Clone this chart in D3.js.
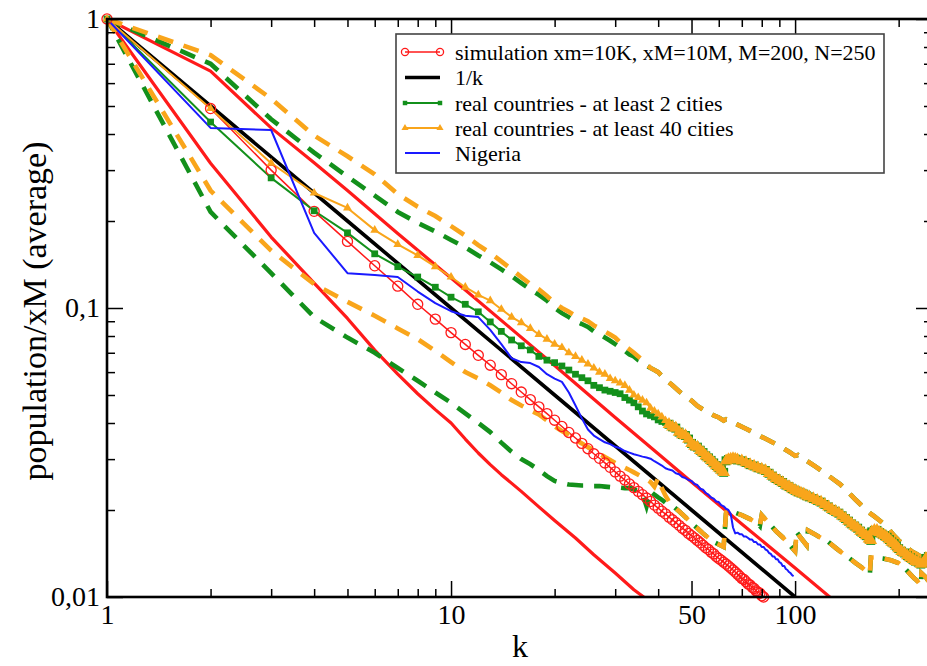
<!DOCTYPE html>
<html>
<head>
<meta charset="utf-8">
<script src="https://cdn.jsdelivr.net/npm/d3@7"></script>
<style>
  html, body { margin: 0; padding: 0; background: #fff; }
  svg { display: block; }
</style>
</head>
<body>
<svg id="chart" width="927" height="666"></svg>
<script>
// ---------- data ----------
const xTickValues = [1, 10, 50, 100];
const xTickLabels = ["1", "10", "50", "100"];
const xMinorTicks = [2, 3, 4, 5, 6, 7, 8, 9, 20, 30, 40, 60, 70, 80, 90, 200];
const yTickValues = [1, 0.1, 0.01];
const yTickLabels = ["1", "0,1", "0,01"];
const yMinorTicks = [0.02, 0.03, 0.04, 0.05, 0.06, 0.07, 0.08, 0.09,
                     0.2, 0.3, 0.4, 0.5, 0.6, 0.7, 0.8, 0.9];

const legendLabels = [
  "simulation xm=10K, xM=10M, M=200, N=250",
  "1/k",
  "real countries - at least 2 cities",
  "real countries - at least 40 cities",
  "Nigeria"
];

// simulation average, k = 1..81
const simulation = [1, 0.49, 0.30, 0.216, 0.170, 0.140, 0.119, 0.103, 0.0915, 0.0822,
  0.0748, 0.0686, 0.0634, 0.0588, 0.0547, 0.0512, 0.0482, 0.0455, 0.0431, 0.0409,
  0.0389, 0.0371, 0.0355, 0.0340, 0.0326, 0.0313, 0.0302, 0.0291, 0.0281, 0.0271,
  0.0262, 0.0254, 0.0246, 0.0239, 0.0232, 0.0226, 0.0220, 0.0214, 0.0208, 0.0203,
  0.0198, 0.0194, 0.0189, 0.0185, 0.0181, 0.0177, 0.0173, 0.0170, 0.0166, 0.0163,
  0.0160, 0.0157, 0.0154, 0.0151, 0.0148, 0.0146, 0.0143, 0.0141, 0.0138, 0.0136,
  0.0134, 0.0132, 0.0130, 0.0128, 0.0126, 0.0124, 0.0122, 0.0120, 0.0118, 0.0116,
  0.0115, 0.0113, 0.0111, 0.0110, 0.0108, 0.0107, 0.0105, 0.0104, 0.0103, 0.0101, 0.0100];

// simulation envelope (upper / lower), [k, value]
const simUpper = [[1, 1], [2, 0.66], [3, 0.42], [4, 0.318], [5, 0.255], [7, 0.181],
  [10, 0.127], [15, 0.0845], [20, 0.0632], [30, 0.0418], [40, 0.0313], [50, 0.025],
  [70, 0.0179], [100, 0.0126], [130, 0.0097]];
const simLower = [[1, 1], [2, 0.317], [3, 0.176], [4, 0.122], [5, 0.092], [6, 0.0715],
  [7, 0.059], [8, 0.0505], [9, 0.0445], [10, 0.040], [11, 0.0352], [12, 0.0315],
  [13, 0.0287], [14, 0.0265], [16, 0.0232], [18, 0.0205], [20, 0.0184], [23, 0.0160],
  [26, 0.0140], [30, 0.0121], [34, 0.0106], [38, 0.0096]];

// reference power law 1/k
const inverseK = [[1, 1], [2, 0.5], [5, 0.2], [10, 0.1], [20, 0.05], [50, 0.02], [100, 0.01]];

// real countries, average, k = 1..42
const atLeast2 = [1, 0.44, 0.282, 0.217, 0.182, 0.154, 0.139, 0.128, 0.118, 0.109,
  0.103, 0.097, 0.0895, 0.083, 0.0775, 0.074, 0.0716, 0.068, 0.066, 0.0647,
  0.063, 0.061, 0.059, 0.0574, 0.056, 0.054, 0.053, 0.052, 0.0515, 0.051,
  0.0505, 0.049, 0.048, 0.047, 0.0455, 0.044, 0.043, 0.0425, 0.042, 0.041,
  0.0405, 0.0402];
const atLeast40 = [1, 0.49, 0.317, 0.25, 0.222, 0.186, 0.166, 0.152, 0.139, 0.128,
  0.118, 0.111, 0.106, 0.099, 0.093, 0.089, 0.085, 0.081, 0.078, 0.075,
  0.073, 0.070, 0.068, 0.066, 0.064, 0.062, 0.060, 0.059, 0.057, 0.056,
  0.055, 0.054, 0.052, 0.050, 0.049, 0.048, 0.047, 0.045, 0.044, 0.043,
  0.042, 0.0408];
// both averages coincide for k >= 43, [k, value]
const averageTail = [[43, 0.0396], [44, 0.0388], [45, 0.0384], [46, 0.0372], [47, 0.0365],
  [48, 0.0362], [49, 0.0352], [50, 0.0340], [51, 0.0333], [52, 0.0330], [53, 0.0322],
  [54, 0.0316], [55, 0.0308], [56, 0.0303], [57, 0.0297], [58, 0.0291], [59, 0.0285],
  [60, 0.0280], [61, 0.0275], [62, 0.0270], [63, 0.0296], [64, 0.0299], [65, 0.0300],
  [66, 0.0301], [67, 0.0300], [68, 0.0298], [70, 0.0296], [72, 0.0292], [74, 0.0287],
  [76, 0.0284], [78, 0.0280], [80, 0.0277], [82, 0.0274], [84, 0.0268], [86, 0.0262],
  [88, 0.0257], [90, 0.0253], [92, 0.0249], [94, 0.0244], [96, 0.0241], [98, 0.0237],
  [100, 0.0234], [102, 0.0231], [104, 0.0229], [106, 0.0227], [108, 0.0224], [110, 0.0222],
  [113, 0.0219], [116, 0.0216], [119, 0.0213], [122, 0.0209], [125, 0.0205], [128, 0.0201],
  [131, 0.0198], [134, 0.0195], [137, 0.0191], [140, 0.0187], [143, 0.0183], [146, 0.0179],
  [149, 0.0176], [152, 0.0173], [155, 0.0169], [158, 0.0166], [161, 0.0163], [164, 0.0159],
  [166, 0.0157], [167, 0.0168], [170, 0.0170], [173, 0.0170], [176, 0.0167], [179, 0.0165],
  [182, 0.0163], [185, 0.0161], [188, 0.0158], [191, 0.0155], [194, 0.0153], [197, 0.0150],
  [200, 0.0147], [204, 0.0144], [208, 0.0142], [212, 0.0139], [216, 0.0137], [220, 0.0135],
  [224, 0.0133], [228, 0.0132], [232, 0.0130], [236, 0.0131], [240, 0.0136], [244, 0.0138],
  [248, 0.0134]];

// upper spread, k = 1..39
const upper2 = [1, 0.70, 0.45, 0.345, 0.285, 0.245, 0.215, 0.197, 0.184, 0.172,
  0.162, 0.152, 0.144, 0.136, 0.129, 0.122, 0.116, 0.111, 0.106, 0.100,
  0.096, 0.093, 0.090, 0.088, 0.086, 0.083, 0.081, 0.079, 0.077, 0.075,
  0.073, 0.071, 0.069, 0.068, 0.066, 0.065, 0.063, 0.062, 0.061];
const upper40 = [1, 0.75, 0.53, 0.395, 0.335, 0.29, 0.248, 0.224, 0.208, 0.192,
  0.178, 0.165, 0.155, 0.145, 0.136, 0.128, 0.121, 0.116, 0.110, 0.104,
  0.100, 0.097, 0.094, 0.092, 0.090, 0.087, 0.085, 0.083, 0.081, 0.079,
  0.076, 0.074, 0.072, 0.070, 0.068, 0.066, 0.064, 0.062, 0.061];
const upperTail = [[40, 0.060], [42, 0.0565], [44, 0.0540], [46, 0.0515], [48, 0.0495],
  [50, 0.0478], [52, 0.0458], [55, 0.0440], [58, 0.0425], [60, 0.0418], [62, 0.0408],
  [63, 0.0412], [65, 0.0405], [68, 0.0395], [72, 0.0382], [76, 0.0370], [80, 0.0358],
  [84, 0.0348], [88, 0.0338], [92, 0.0328], [96, 0.0318], [100, 0.0308], [102, 0.0310],
  [105, 0.0302], [110, 0.0292], [115, 0.0282], [120, 0.0272], [125, 0.0263], [130, 0.0254],
  [135, 0.0246], [140, 0.0236], [145, 0.0226], [150, 0.0217], [155, 0.0209], [160, 0.0201],
  [165, 0.0195], [170, 0.0190], [175, 0.0185], [180, 0.0180], [185, 0.0175], [190, 0.0168],
  [195, 0.0162], [200, 0.0157], [205, 0.0153], [210, 0.0149], [215, 0.0146], [220, 0.0143],
  [225, 0.0141], [230, 0.0139], [235, 0.0137], [240, 0.0133], [245, 0.0129], [250, 0.0126]];

// lower spread, k = 1..43
const lower2 = [1, 0.215, 0.132, 0.093, 0.079, 0.070, 0.062, 0.056, 0.051, 0.047,
  0.0432, 0.0400, 0.0372, 0.0342, 0.0318, 0.0300, 0.0288, 0.0275, 0.0262, 0.0252,
  0.0248, 0.0245, 0.0244, 0.0243, 0.0243, 0.0242, 0.0242, 0.0241, 0.0240, 0.0240,
  0.0239, 0.0238, 0.0238, 0.0236, 0.0233, 0.0228, 0.0206, 0.0232, 0.0226, 0.0221,
  0.0217, 0.0212, 0.0209];
const lower40 = [1, 0.255, 0.158, 0.121, 0.105, 0.094, 0.085, 0.078, 0.071, 0.065,
  0.060, 0.057, 0.054, 0.051, 0.048, 0.046, 0.0443, 0.0428, 0.0408, 0.0390,
  0.0375, 0.0364, 0.0350, 0.0340, 0.0330, 0.0322, 0.0313, 0.0305, 0.0298, 0.0291,
  0.0285, 0.0280, 0.0275, 0.0270, 0.0265, 0.0260, 0.0255, 0.0250, 0.0241, 0.0258,
  0.0238, 0.0224, 0.0214];
const lowerTail = [[44, 0.0207], [46, 0.0198], [48, 0.0189], [50, 0.0180], [52, 0.0173],
  [54, 0.0166], [56, 0.0160], [58, 0.0155], [60, 0.0152], [62, 0.0149], [63, 0.0196],
  [66, 0.0197], [70, 0.0192], [74, 0.0186], [78, 0.0179], [79, 0.0176], [80, 0.0192],
  [84, 0.0180], [88, 0.0169], [92, 0.0161], [96, 0.0152], [100, 0.0144], [101, 0.0168],
  [104, 0.0160], [108, 0.0151], [109, 0.0170], [114, 0.0165], [120, 0.0159], [125, 0.0155],
  [132, 0.0147], [138, 0.0141], [143, 0.0137], [150, 0.0131], [157, 0.0126], [163, 0.0121],
  [165, 0.0120], [166, 0.0137], [172, 0.0137], [180, 0.0136], [190, 0.0134], [200, 0.0131],
  [208, 0.0126], [216, 0.0120], [222, 0.0116], [226, 0.0114], [230, 0.0111], [232, 0.0110],
  [233, 0.0121], [240, 0.0117], [246, 0.0112], [250, 0.0109]];

// Nigeria, [k, value]
const nigeria = [[1, 1], [2, 0.42], [3, 0.413], [4, 0.182], [5, 0.132], [6, 0.130], [7, 0.128],
  [8, 0.114], [9, 0.104], [10, 0.0975], [11, 0.094], [12, 0.093], [13, 0.084], [14, 0.075],
  [15, 0.067], [16, 0.065], [17, 0.0645], [18, 0.0625], [19, 0.059], [20, 0.057], [21, 0.0555],
  [22, 0.051], [23, 0.046], [24, 0.0415], [25, 0.038], [26, 0.0362], [27, 0.0352], [28, 0.0343],
  [29, 0.0338], [30, 0.0331], [31, 0.0327], [32, 0.0320], [33, 0.0316], [34, 0.0312],
  [35, 0.0309], [36, 0.0306], [37, 0.0304], [38, 0.0301], [39, 0.0295], [40, 0.0290],
  [41, 0.0285], [42, 0.0279], [43, 0.0276], [44, 0.0274], [45, 0.0268], [46, 0.0266],
  [47, 0.0260], [48, 0.0258], [49, 0.0254], [50, 0.0252], [51, 0.0246], [52, 0.0244],
  [53, 0.0237], [54, 0.0235], [55, 0.0229], [56, 0.0226], [57, 0.0221], [58, 0.0219],
  [59, 0.0214], [60, 0.0213], [61, 0.0208], [62, 0.0206], [63, 0.0202], [64, 0.0200],
  [65, 0.0194], [66, 0.0174], [67, 0.0166], [68, 0.0167], [69, 0.0165], [70, 0.0165],
  [71, 0.0162], [72, 0.0162], [73, 0.0160], [74, 0.0158], [75, 0.0158], [76, 0.0155],
  [77, 0.0155], [78, 0.0152], [79, 0.0152], [80, 0.0149], [81, 0.0149], [82, 0.0146],
  [83, 0.0145], [84, 0.0142], [85, 0.0141], [86, 0.0138], [87, 0.0138], [88, 0.0135],
  [89, 0.0135], [90, 0.0132], [91, 0.0131], [92, 0.0128], [93, 0.0128], [94, 0.0125],
  [95, 0.0124], [96, 0.0122], [97, 0.0121], [98, 0.0119], [99, 0.0118]];

// ---------- colours & type ----------
const RED = "#ff1a1a", GREEN = "#13901b", ORANGE = "#f9a51b", BLUE = "#1a1aff";
const SERIF = "'Liberation Serif', 'DejaVu Serif', 'Times New Roman', serif";

// ---------- layout ----------
const svg = d3.select("#chart").attr("font-family", SERIF);
const plot = { left: 107, top: 19, right: 932, bottom: 597 };

const x = d3.scaleLog().domain([1, 250]).range([plot.left, plot.right]);
const y = d3.scaleLog().domain([0.01, 1]).range([plot.bottom, plot.top]);

const byRank = vals => vals.map((v, i) => [i + 1, v]);
const line = d3.line().x(d => x(d[0])).y(d => y(d[1]));

svg.append("rect").attr("width", 927).attr("height", 666).attr("fill", "#fff");

svg.append("defs").append("clipPath").attr("id", "area")
  .append("rect")
  .attr("x", plot.left).attr("y", plot.top)
  .attr("width", plot.right - plot.left).attr("height", plot.bottom - plot.top);

const gLines = svg.append("g").attr("clip-path", "url(#area)");
const gMarks = svg.append("g");

function solid(data, color, width) {
  gLines.append("path").datum(data)
    .attr("d", line).attr("fill", "none")
    .attr("stroke", color).attr("stroke-width", width)
    .attr("stroke-linejoin", "round");
}

function pathLength(data) {
  const p = svg.append("path").attr("d", line(data)).attr("fill", "none");
  const len = p.node().getTotalLength();
  p.remove();
  return len;
}

function dashed(data, color, offset) {
  gLines.append("path").datum(data)
    .attr("d", line).attr("fill", "none")
    .attr("stroke", color).attr("stroke-width", 4.6)
    .attr("stroke-dasharray", "16,11")
    .attr("stroke-dashoffset", offset || 0);
}

const visible = d => d[1] >= 0.0099 && d[0] <= 250;

// symbols: smaller where ranks are sparse, larger in the dense high-rank tail
function markers(data, type, size, tailSize, tailFrom, fill, stroke) {
  gMarks.selectAll(null).data(data.filter(visible)).enter().append("path")
    .attr("transform", d => `translate(${x(d[0])},${y(d[1])})`)
    .attr("d", d => d3.symbol().type(type).size(d[0] >= tailFrom ? tailSize : size)())
    .attr("fill", fill).attr("stroke", stroke || "none").attr("stroke-width", 1.3);
}

// ---------- series ----------
const simSeries = byRank(simulation);
const green = byRank(atLeast2).concat(averageTail);
const orange = byRank(atLeast40).concat(averageTail);
const greenUp = byRank(upper2).concat(upperTail);
const orangeUp = byRank(upper40).concat(upperTail);
const greenLow = byRank(lower2).concat(lowerTail);
const orangeLow = byRank(lower40).concat(lowerTail);

solid(simLower, RED, 3.2);
solid(simUpper, RED, 3.2);
solid(simSeries, RED, 1.5);
markers(simSeries, d3.symbolCircle, 80, 80, 999, "none", RED);
solid(inverseK, "#000", 3.6);

// align dash phase of merged tails so the green dashes sit just ahead of the orange ones
const lowLead = 2, upLead = 0;
const gLowOff = pathLength(orangeLow.slice(0, lower40.length + 1)) -
                pathLength(greenLow.slice(0, lower2.length + 1)) + lowLead;
const gUpOff = pathLength(orangeUp.slice(0, upper40.length + 1)) -
               pathLength(greenUp.slice(0, upper2.length + 1)) + upLead;

dashed(greenLow, GREEN, gLowOff);
dashed(greenUp, GREEN, gUpOff);
solid(green, GREEN, 2);
markers(green, d3.symbolSquare, 46, 80, 43, GREEN);

dashed(orangeLow, ORANGE, 0);
dashed(orangeUp, ORANGE, 0);
solid(orange, ORANGE, 2);
markers(orange, d3.symbolTriangle, 34, 70, 43, ORANGE);

solid(nigeria, BLUE, 2);

// ---------- axes ----------
function styleAxis(g) {
  g.select(".domain").remove();
  g.attr("font-family", SERIF).attr("font-size", 28);
  g.selectAll(".tick line").attr("stroke", "#000").attr("stroke-width", 1.5);
  g.selectAll(".tick text").attr("fill", "#000");
}

svg.append("g").attr("transform", `translate(0,${plot.bottom})`)
  .call(d3.axisBottom(x).tickValues(xTickValues).tickFormat((d, i) => xTickLabels[i])
    .tickSize(-16).tickPadding(7)).call(styleAxis);
svg.append("g").attr("transform", `translate(0,${plot.bottom})`)
  .call(d3.axisBottom(x).tickValues(xMinorTicks).tickFormat("").tickSize(-8)).call(styleAxis);
svg.append("g").attr("transform", `translate(0,${plot.top})`)
  .call(d3.axisTop(x).tickValues(xTickValues).tickFormat("").tickSize(-16)).call(styleAxis);
svg.append("g").attr("transform", `translate(0,${plot.top})`)
  .call(d3.axisTop(x).tickValues(xMinorTicks).tickFormat("").tickSize(-8)).call(styleAxis);

svg.append("g").attr("transform", `translate(${plot.left},0)`)
  .call(d3.axisLeft(y).tickValues(yTickValues).tickFormat((d, i) => yTickLabels[i])
    .tickSize(-16).tickPadding(7)).call(styleAxis);
svg.append("g").attr("transform", `translate(${plot.left},0)`)
  .call(d3.axisLeft(y).tickValues(yMinorTicks).tickFormat("").tickSize(-8)).call(styleAxis);
svg.append("g").attr("transform", `translate(${plot.right},0)`)
  .call(d3.axisRight(y).tickValues(yTickValues).tickFormat("").tickSize(-16)).call(styleAxis);
svg.append("g").attr("transform", `translate(${plot.right},0)`)
  .call(d3.axisRight(y).tickValues(yMinorTicks).tickFormat("").tickSize(-8)).call(styleAxis);

// frame
svg.append("rect")
  .attr("x", plot.left).attr("y", plot.top)
  .attr("width", plot.right - plot.left).attr("height", plot.bottom - plot.top)
  .attr("fill", "none").attr("stroke", "#000").attr("stroke-width", 2.6);

// axis titles
svg.append("text").attr("x", 520).attr("y", 657)
  .attr("text-anchor", "middle").attr("font-family", SERIF).attr("font-size", 32).text("k");
svg.append("text").attr("transform", "translate(46,311) rotate(-90)")
  .attr("text-anchor", "middle").attr("font-family", SERIF).attr("font-size", 34)
  .text("population/xM (average)");

// ---------- legend ----------
const legend = svg.append("g");
legend.append("rect").attr("x", 396).attr("y", 34).attr("width", 488).attr("height", 139)
  .attr("fill", "#fff").attr("stroke", "#444").attr("stroke-width", 1.6);

const rowY = [52, 77.5, 103, 128, 153];
const sx0 = 405, sx1 = 440;
const sample = [
  { color: RED, width: 1.5, symbol: d3.symbolCircle, size: 40, fill: "none", stroke: RED },
  { color: "#000", width: 3.6 },
  { color: GREEN, width: 2, symbol: d3.symbolSquare, size: 20, fill: GREEN },
  { color: ORANGE, width: 2, symbol: d3.symbolTriangle, size: 22, fill: ORANGE },
  { color: BLUE, width: 2 }
];
legendLabels.forEach((label, i) => {
  const s = sample[i], yy = rowY[i];
  legend.append("line").attr("x1", sx0).attr("x2", sx1).attr("y1", yy).attr("y2", yy)
    .attr("stroke", s.color).attr("stroke-width", s.width);
  if (s.symbol) {
    [sx0, sx1].forEach(px => legend.append("path")
      .attr("transform", `translate(${px},${yy})`)
      .attr("d", d3.symbol().type(s.symbol).size(s.size))
      .attr("fill", s.fill).attr("stroke", s.stroke || "none").attr("stroke-width", 1.3));
  }
  legend.append("text").attr("x", 455).attr("y", yy + 7.5)
    .attr("font-family", SERIF).attr("font-size", 22).attr("fill", "#000").text(label);
});
</script>
</body>
</html>
